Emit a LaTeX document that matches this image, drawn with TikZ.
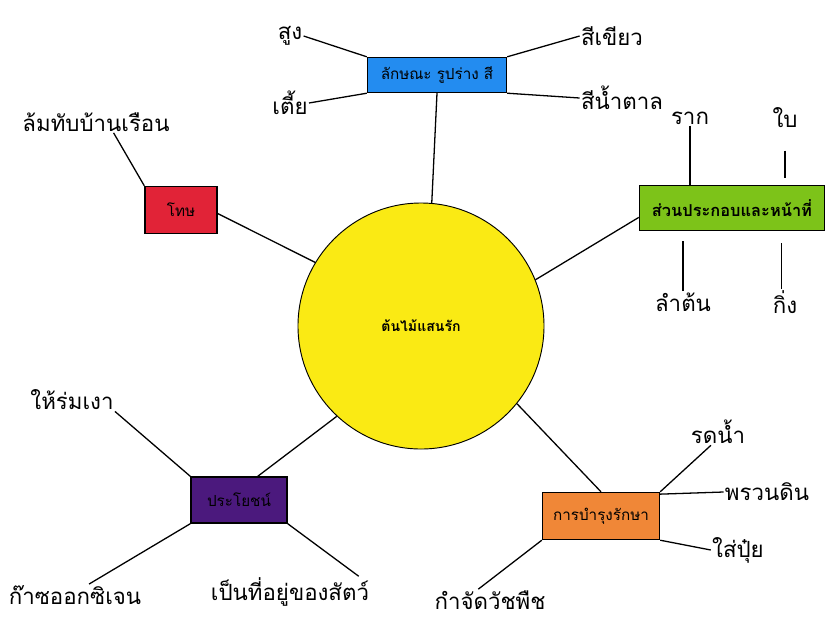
\documentclass[tikz,border=0pt]{standalone}
\usepackage{fontspec}
\newfontfamily\thaifont[Script=Thai]{Loma}
\definecolor{treeyellow}{RGB}{250,234,20}
\definecolor{shapeblue}{RGB}{35,140,240}
\definecolor{harmred}{RGB}{225,35,55}
\definecolor{partgreen}{RGB}{125,195,25}
\definecolor{usepurple}{RGB}{75,25,125}
\definecolor{careorange}{RGB}{240,135,55}
\begin{document}
\begin{tikzpicture}[x=0.03cm,y=-0.03cm,
	topic/.style={draw,line width=1.2pt,font=\thaifont\fontsize{13}{15}\selectfont},
	leaf/.style={font=\thaifont\fontsize{19}{22}\selectfont,inner sep=1pt},
	link/.style={line width=1.1pt}]
	\useasboundingbox (0,0) rectangle (826,630);

	\node[draw,thick,circle,fill=treeyellow,minimum size=7.38cm,font=\thaifont\bfseries\fontsize{12}{14}\selectfont] (tree) at (421,326) {ต้นไม้แสนรัก};

	% ลักษณะ
	\node[topic,fill=shapeblue,minimum width=4.17cm,minimum height=1.05cm] (shape) at (437,75) {ลักษณะ รูปร่าง สี};
	\node[leaf] (tall) at (290,36) {สูง};
	\node[leaf] (short) at (290,103) {เตี้ย};
	\node[leaf] (green) at (612,36) {สีเขียว};
	\node[leaf] (brown) at (622,98) {สีน้ำตาล};

	\draw[link] (tree.85) -- (shape.south);
	\draw[link] (tall.east) -- (shape.north west);
	\draw[link] (short.east) -- (shape.south west);
	\draw[link] (green.west) -- (shape.north east);
	\draw[link] (brown.west) -- (shape.south east);

	% โทษ
	\node[topic,fill=harmred,minimum width=2.16cm,minimum height=1.41cm] (harm) at (181,210) {โทษ};
	\node[leaf] (fall) at (96,122) {ล้มทับบ้านเรือน};

	\draw[link] (tree.149) -- ([yshift=-3pt]harm.east);
	\draw[link] ([xshift=15pt]fall.south) -- (harm.north west);

	% ส่วนประกอบ
	\node[topic,fill=partgreen,font=\thaifont\bfseries\fontsize{14}{16}\selectfont,minimum width=5.55cm,minimum height=1.35cm] (part) at (732,208) {ส่วนประกอบและหน้าที่};
	\node[leaf] (root) at (690,118) {ราก};
	\node[leaf] (leafy) at (785,118) {ใบ};
	\node[leaf] (stem) at (683,302) {ลำต้น};
	\node[leaf] (branch) at (785,302) {กิ่ง};

	\draw[link] (tree.22) -- ([yshift=-8pt]part.west);
	\draw[link] (root.south) -- (root.south |- part.north);
	\draw[link] ([yshift=-18pt]leafy.south) -- ([yshift=6pt]leafy.south |- part.north);
	\draw[link] (stem.north) -- ([yshift=-8pt]stem.north |- part.south);
	\draw[link] ([xshift=-3pt]branch.north) -- ([xshift=-3pt,yshift=-10pt]branch.north |- part.south);

	% ประโยชน์
	\node[topic,fill=usepurple,minimum width=2.88cm,minimum height=1.38cm] (use) at (239,500) {ประโยชน์};
	\node[leaf] (shade) at (72,400) {ให้ร่มเงา};
	\node[leaf] (oxygen) at (75,595) {ก๊าซออกซิเจน};
	\node[leaf] (home) at (290,592) {เป็นที่อยู่ของสัตว์};

	\draw[link] (tree.227) -- ([xshift=16pt]use.north);
	\draw[link] (shade.south east) -- (use.north west);
	\draw[link] ([xshift=12pt]oxygen.north) -- (use.south west);
	\draw[link] ([xshift=-10pt]home.north east) -- (use.south east);

	% การบำรุงรักษา
	\node[topic,fill=careorange,minimum width=3.51cm,minimum height=1.41cm] (care) at (601,516) {การบำรุงรักษา};
	\node[leaf] (water) at (718,432) {รดน้ำ};
	\node[leaf] (till) at (767,492) {พรวนดิน};
	\node[leaf] (fert) at (738,550) {ใส่ปุ๋ย};
	\node[leaf] (weed) at (490,600) {กำจัดวัชพืช};

	\draw[link] (tree.321) -- (care.north);
	\draw[link] ([xshift=-6pt]water.south) -- (care.north east);
	\draw[link] (till.west) -- ([yshift=-2pt]care.north east);
	\draw[link] (fert.west) -- (care.south east);
	\draw[link] ([xshift=-10pt]weed.north) -- (care.south west);
\end{tikzpicture}
\end{document}
